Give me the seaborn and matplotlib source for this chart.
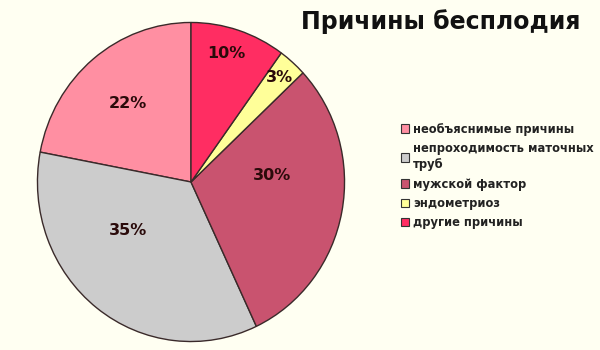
import numpy as np
import matplotlib
matplotlib.use("Agg")
import matplotlib.pyplot as plt
import seaborn as sns

categories = ["необъяснимые причины", "непроходимость маточных\nтруб",
              "мужской фактор", "эндометриоз", "другие причины"]
values = [22, 35, 30, 3, 10]
pct_labels = ["22%", "35%", "30%", "3%", "10%"]
colors = ["#ff8fa2", "#cccccc", "#c9536f", "#ffff99", "#ff2d62"]
title = "Причины бесплодия"

sns.set_theme(style="white")
plt.rcParams['font.family'] = ['DejaVu Sans']
bg = "#fffff2"

fig = plt.figure(figsize=(6, 3.5), dpi=100, facecolor=bg)
ax = fig.add_axes([37/600, (350-342)/350, 308/600, 320/350])
ax.set_facecolor(bg)

wedges, _ = ax.pie(values, colors=colors, startangle=90, counterclock=True,
                   wedgeprops=dict(edgecolor="#3a2a2a", linewidth=1.0))
ax.set_xlim(-1.003, 1.003)
ax.set_ylim(-1.003, 1.003)
ax.set_aspect("auto")

# label placement (radius fraction, angle tweak in degrees)
label_r = [0.64, 0.51, 0.53, 0.87, 0.84]
label_dang = [0, -16, 15, 0, 2]
for w, lab, r, da in zip(wedges, pct_labels, label_r, label_dang):
    ang = np.deg2rad((w.theta1 + w.theta2) / 2 + da)
    ax.text(r * np.cos(ang), r * np.sin(ang), lab, ha="center", va="center",
            fontsize=11.5, fontweight="bold", color="#2a0a0a")

fig.text(441/600, 1 - 22/350, title, ha="center", va="center", fontsize=17,
         fontweight="bold", color="#111111")

leg = fig.legend(wedges, categories, loc="upper left",
                 bbox_to_anchor=(396/600, 1 - 118/350), frameon=False,
                 fontsize=8.3, handlelength=0.75, handleheight=0.75,
                 handletextpad=0.35, labelspacing=0.54, borderaxespad=0)
for t in leg.get_texts():
    t.set_fontweight("bold")
    t.set_color("#222222")
    t.set_linespacing(1.35)
for h in leg.legend_handles:
    h.set_edgecolor("#333333")
    h.set_linewidth(0.8)

fig.savefig("out.png", dpi=100, facecolor=bg)
